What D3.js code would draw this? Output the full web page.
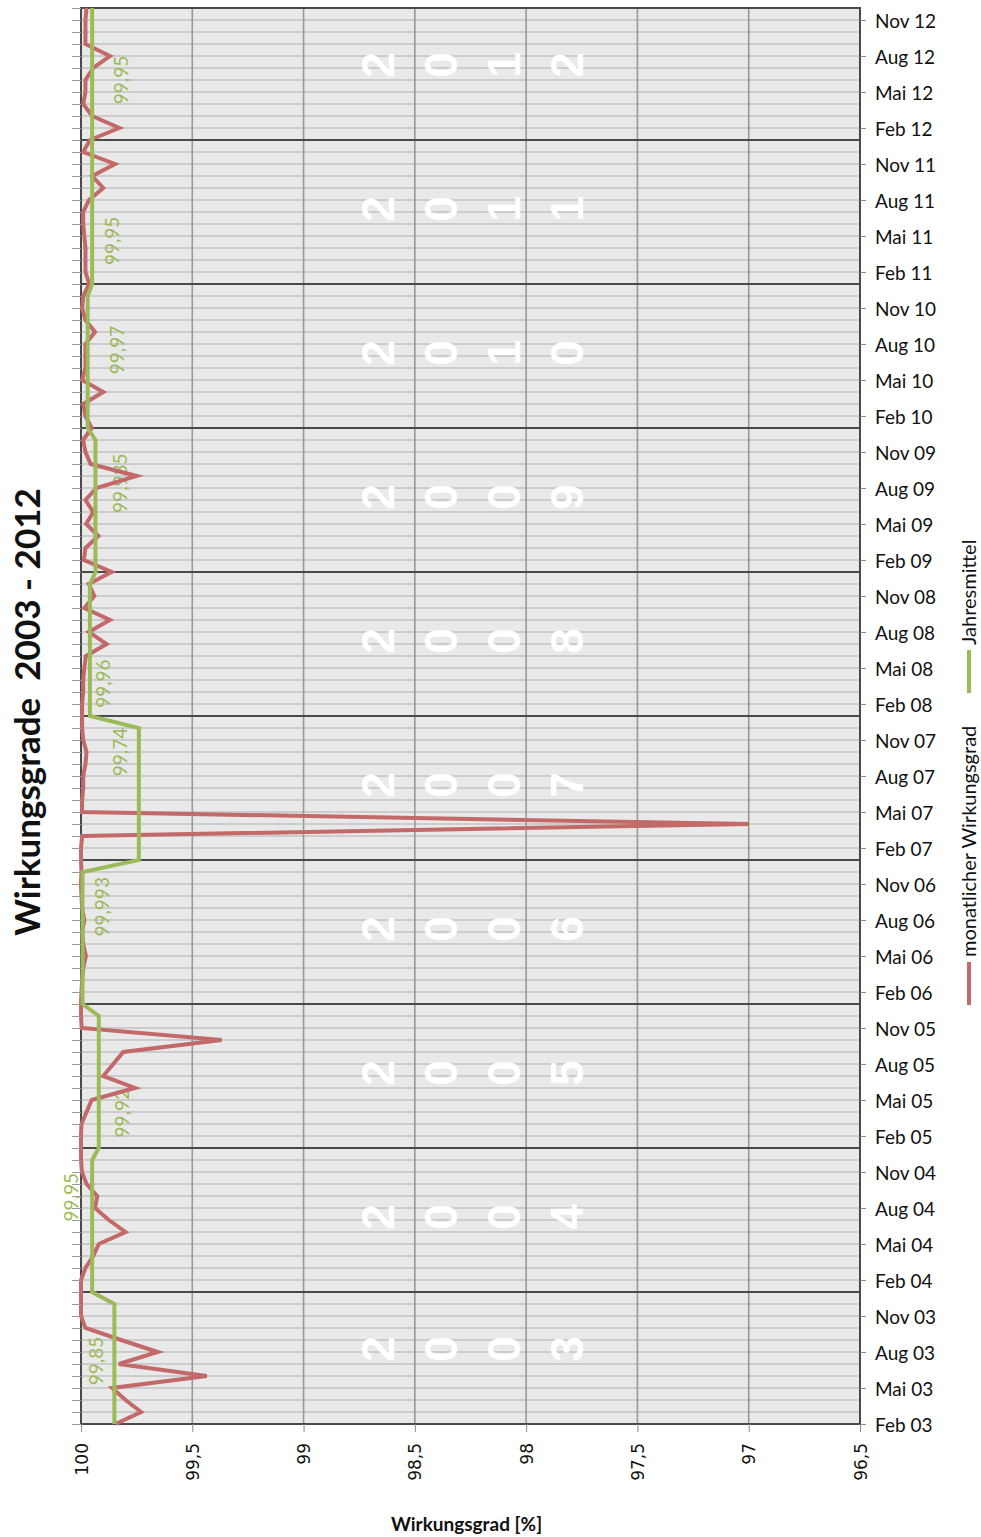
<!DOCTYPE html>
<html>
<head>
  <meta charset="utf-8">
  <title>Wirkungsgrade 2003 - 2012</title>
  <script src="https://cdnjs.cloudflare.com/ajax/libs/d3/7.8.5/d3.min.js"></script>
  <style>
    body { margin: 0; background: #fff; }
    svg text { font-family: Lato, "Open Sans", sans-serif; }
  </style>
</head>
<body>
<div id="container"></div>

<script>
  // ---- data ----
  var years = [2003, 2004, 2005, 2006, 2007, 2008, 2009, 2010, 2011, 2012];
  var monthNames = ["Jan", "Feb", "Mär", "Apr", "Mai", "Jun", "Jul", "Aug", "Sep", "Okt", "Nov", "Dez"];
  var axisMonths = ["Feb", "Mai", "Aug", "Nov"];
  var xTicks = [100, 99.5, 99, 98.5, 98, 97.5, 97, 96.5];

  // monthly Wirkungsgrad, 2003 starts with Feb
  var wg2003 = [99.845, 99.73, 99.80, 99.86, 99.435, 99.83, 99.655, 99.82, 99.98, 100.0, 100.0];
  var wg2004 = [100.0, 100.0, 99.98, 99.945, 99.92, 99.80, 99.875, 99.937, 99.927, 99.975, 99.996, 100.0];
  var wg2005 = [100.0, 100.0, 99.998, 99.975, 99.952, 99.757, 99.90, 99.855, 99.81, 99.368, 99.997, 100.0];
  var wg2006 = [100.0, 99.998, 99.995, 99.99, 99.978, 99.99, 99.995, 99.985, 99.995, 99.998, 100.0, 99.998];
  var wg2007 = [100.0, 100.0, 99.995, 97.0, 99.995, 99.995, 99.99, 99.99, 99.98, 99.975, 99.99, 99.995];
  var wg2008 = [99.995, 99.995, 99.99, 99.99, 99.985, 99.978, 99.885, 99.965, 99.87, 99.985, 99.94, 99.965];
  var wg2009 = [99.862, 99.987, 99.98, 99.922, 99.977, 99.945, 99.98, 99.93, 99.75, 99.957, 99.98, 99.99];
  var wg2010 = [99.952, 99.98, 99.99, 99.90, 99.995, 99.98, 99.98, 99.98, 99.937, 99.98, 99.995, 99.99];
  var wg2011 = [99.963, 99.98, 99.98, 99.98, 99.985, 99.99, 99.99, 99.964, 99.90, 99.95, 99.847, 99.99];
  var wg2012 = [99.96, 99.828, 99.95, 99.99, 99.98, 99.98, 99.945, 99.87, 99.98, 99.98, 99.98, 99.975];

  var jahresmittel = [99.85, 99.95, 99.92, 99.993, 99.74, 99.96, 99.935, 99.97, 99.95, 99.95];
  var jahresmittelText = ["99,85", "99,95", "99,92", "99,993", "99,74", "99,96", "99,935", "99,97", "99,95", "99,95"];

  var monthly = [wg2003, wg2004, wg2005, wg2006, wg2007, wg2008, wg2009, wg2010, wg2011, wg2012];

  // where the Jahresmittel labels sit (months after Jan, px beside the line)
  var labelMonth = [6.25, 7.9, 2.9, 8.1, 9, 2.7, 7.4, 6.5, 3.6, 5];
  var labelDx = [-18, -21, 24, 20, -19, 13, 25, 30, 20, 29];

  // ---- layout ----
  var W = 981, H = 1537;
  var plot = {left: 81, right: 860, top: 8, bottom: 1424};
  var red = "#c3696a", green = "#9bbb59";

  // month index 0 = Feb 03
  var points = [];
  monthly.forEach(function(arr, k){
    var m0 = 12 - arr.length;
    arr.forEach(function(v, j){
      points.push({i: k * 12 + m0 + j - 1, m: m0 + j, k: k, v: v, mean: jahresmittel[k]});
    });
  });
  var lastIndex = points[points.length - 1].i;

  var x = d3.scaleLinear().domain([100, 96.5]).range([plot.left, plot.right]);
  var y = d3.scaleLinear().domain([0, lastIndex]).range([plot.bottom, plot.top]);

  var svg = d3.select("#container").append("svg").attr("width", W).attr("height", H);

  svg.append("rect")
    .attr("x", plot.left).attr("y", plot.top)
    .attr("width", plot.right - plot.left).attr("height", plot.bottom - plot.top)
    .attr("fill", "#e9e9e9");

  // monthly gridlines
  svg.append("g").selectAll("line").data(points).enter().append("line")
    .attr("x1", plot.left).attr("x2", plot.right)
    .attr("y1", function(d){ return y(d.i); }).attr("y2", function(d){ return y(d.i); })
    .attr("stroke", "#c2c2c2").attr("stroke-width", 1.6);

  // value gridlines
  svg.append("g").selectAll("line").data(xTicks.slice(1, -1)).enter().append("line")
    .attr("x1", function(d){ return x(d); }).attr("x2", function(d){ return x(d); })
    .attr("y1", plot.top).attr("y2", plot.bottom)
    .attr("stroke", "#989898").attr("stroke-width", 1.6);

  // year separators at each Jan
  var janPoints = points.filter(function(d){ return d.m == 0; });
  svg.append("g").selectAll("line").data(janPoints).enter().append("line")
    .attr("x1", plot.left).attr("x2", plot.right)
    .attr("y1", function(d){ return y(d.i); }).attr("y2", function(d){ return y(d.i); })
    .attr("stroke", "#4a4a4a").attr("stroke-width", 2);

  // plot border
  svg.append("rect")
    .attr("x", plot.left).attr("y", plot.top)
    .attr("width", plot.right - plot.left).attr("height", plot.bottom - plot.top)
    .attr("fill", "none").attr("stroke", "#4a4a4a").attr("stroke-width", 2);

  // big white year digits, stacked
  var digits = svg.append("g");
  years.forEach(function(yr, k){
    var jan = Math.max(k * 12 - 1, 0);
    var cy = y(jan + 6.25);
    String(yr).split("").forEach(function(ch, n){
      digits.append("text")
        .attr("transform", "translate(" + (377 + n * 63) + "," + cy + ") rotate(-90)")
        .attr("text-anchor", "middle").attr("dy", "0.36em")
        .style("font-family", "'Liberation Sans', Arial, sans-serif")
        .style("font-weight", "bold").style("font-size", "46px")
        .attr("fill", "#ffffff")
        .text(ch);
    });
  });

  // Jahresmittel labels
  svg.append("g").selectAll("text").data(jahresmittel).enter().append("text")
    .attr("transform", function(d, k){
      var ly = y(k * 12 - 1 + labelMonth[k]);
      return "translate(" + (x(d) + labelDx[k]) + "," + ly + ") rotate(-90)";
    })
    .attr("text-anchor", "middle").attr("dy", "0.35em")
    .style("font-size", "19px").attr("fill", green)
    .text(function(d, k){ return jahresmittelText[k]; });

  var line = d3.line().x(function(d){ return x(d.v); }).y(function(d){ return y(d.i); });
  var meanLine = d3.line().x(function(d){ return x(d.mean); }).y(function(d){ return y(d.i); });

  svg.append("path").datum(points).attr("d", line)
    .attr("fill", "none").attr("stroke", red).attr("stroke-width", 4).attr("stroke-linejoin", "miter");
  svg.append("path").datum(points).attr("d", meanLine)
    .attr("fill", "none").attr("stroke", green).attr("stroke-width", 4);

  // right axis: months
  var monthTicks = points.filter(function(d){ return axisMonths.indexOf(monthNames[d.m]) >= 0; }).map(function(d){ return d.i; });
  var yAxis = d3.axisRight(y).tickValues(monthTicks).tickSize(6).tickSizeOuter(0).tickPadding(9)
    .tickFormat(function(i){
      var p = points.find(function(d){ return d.i == i; });
      return monthNames[p.m] + " " + String(years[p.k]).slice(2);
    });
  var gy = svg.append("g").attr("transform", "translate(" + plot.right + ",0)").call(yAxis);
  gy.select(".domain").remove();
  gy.selectAll("line").attr("stroke", "#8a8a8a");
  gy.selectAll("text").attr("dy", "0.4em")
    .style("font-family", "Lato, sans-serif").style("font-size", "19px").attr("fill", "#111");

  // left minor ticks every month
  var yMinor = d3.axisLeft(y).tickValues(points.map(function(d){ return d.i; })).tickSize(9).tickSizeOuter(0).tickFormat("");
  var gm = svg.append("g").attr("transform", "translate(" + plot.left + ",0)").call(yMinor);
  gm.select(".domain").remove();
  gm.selectAll("line").attr("stroke", "#9a9a9a");

  // bottom axis: Wirkungsgrad
  var xAxis = d3.axisBottom(x).tickValues(xTicks).tickSize(8).tickSizeOuter(0)
    .tickFormat(function(d){ return String(d).replace(".", ","); });
  var gx = svg.append("g").attr("transform", "translate(0," + plot.bottom + ")").call(xAxis);
  gx.select(".domain").remove();
  gx.selectAll("line").attr("stroke", "#8a8a8a");
  gx.selectAll("text")
    .attr("transform", "rotate(-90)")
    .attr("x", -19).attr("y", 0).attr("dy", "0.36em")
    .style("text-anchor", "end")
    .style("font-family", "'DejaVu Sans', sans-serif").style("font-size", "17px").attr("fill", "#111");

  svg.append("text")
    .attr("x", (plot.left + plot.right) / 2 - 4).attr("y", 1524).attr("dy", "0.35em")
    .attr("text-anchor", "middle")
    .style("font-weight", "bold").style("font-size", "19px").attr("fill", "#111")
    .text("Wirkungsgrad [%]");

  // title
  svg.append("text")
    .attr("transform", "translate(27,712) rotate(-90)")
    .attr("text-anchor", "middle").attr("dy", "0.36em")
    .style("font-weight", "bold").style("font-size", "35px").attr("fill", "#111")
    .style("white-space", "pre")
    .text("Wirkungsgrade  2003 - 2012");

  // legend
  var legend = svg.append("g");
  var legendItems = [
    {name: "monatlicher Wirkungsgrad", color: red, y0: 1005},
    {name: "Jahresmittel", color: green, y0: 693}
  ];
  legendItems.forEach(function(it){
    legend.append("line")
      .attr("x1", 969).attr("x2", 969).attr("y1", it.y0).attr("y2", it.y0 - 43)
      .attr("stroke", it.color).attr("stroke-width", 4);
    legend.append("text")
      .attr("transform", "translate(969," + (it.y0 - 48) + ") rotate(-90)")
      .attr("dy", "0.35em")
      .style("font-size", "20px").attr("fill", "#111")
      .text(it.name);
  });
</script>
</body>
</html>
